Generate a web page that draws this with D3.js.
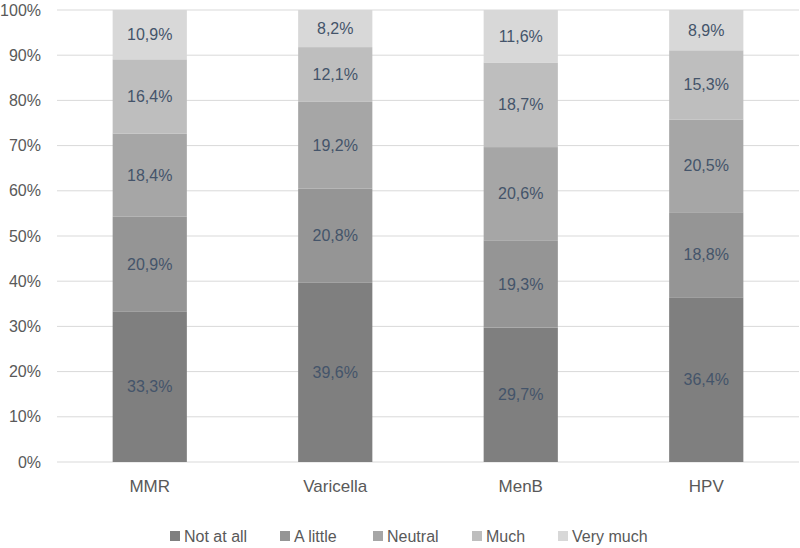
<!DOCTYPE html>
<html lang="en">
<head>
    <meta charset="UTF-8">
    <title>Stacked 100% bars</title>
    <style>
        body { margin: 0; background: #fff; }
        text { font-family: "Liberation Sans", "DejaVu Sans", sans-serif; }
    </style>
</head>
<body>
    <svg id="chart" width="800" height="548"></svg>
    <script src="https://d3js.org/d3.v7.min.js"></script>
    <script>
        // categories and series
        const vaccines = ["MMR", "Varicella", "MenB", "HPV"];
        const levels = ["Not at all", "A little", "Neutral", "Much", "Very much"];
        const notAtAll = [33.3, 39.6, 29.7, 36.4];
        const aLittle = [20.9, 20.8, 19.3, 18.8];
        const neutral = [18.4, 19.2, 20.6, 20.5];
        const much = [16.4, 12.1, 18.7, 15.3];
        const veryMuch = [10.9, 8.2, 11.6, 8.9];
        const yTicks = [0, 0.1, 0.2, 0.3, 0.4, 0.5, 0.6, 0.7, 0.8, 0.9, 1];
        const colors = ["#7f7f7f", "#959595", "#a6a6a6", "#bebebe", "#d8d8d8"];

        const seriesValues = [notAtAll, aLittle, neutral, much, veryMuch];
        const rows = vaccines.map((v, i) => {
            const r = { vaccine: v };
            levels.forEach((l, j) => r[l] = seriesValues[j][i]);
            return r;
        });

        const svg = d3.select("#chart");
        const margin = { top: 10, right: 1, bottom: 86, left: 57 };
        const width = 800 - margin.left - margin.right;
        const height = 548 - margin.top - margin.bottom;

        const g = svg.append("g").attr("transform", `translate(${margin.left},${margin.top})`);

        const x = d3.scaleBand().domain(vaccines).range([0, width]).paddingInner(0.6).paddingOuter(0.3);
        const y = d3.scaleLinear().domain([0, 1]).range([height, 0]);

        // gridlines
        g.append("g")
            .selectAll("line")
            .data(yTicks)
            .enter().append("line")
            .attr("x1", 0)
            .attr("x2", width)
            .attr("y1", d => y(d))
            .attr("y2", d => y(d))
            .attr("stroke", "#d9d9d9")
            .attr("stroke-width", 1);

        // y axis labels
        const yAxis = g.append("g")
            .call(d3.axisLeft(y).tickValues(yTicks).tickFormat(d3.format(".0%")).tickSize(0).tickPadding(16));
        yAxis.select(".domain").remove();
        yAxis.selectAll("text").attr("fill", "#595959").style("font-size", "16px");

        // x axis labels
        const xAxis = g.append("g")
            .attr("transform", `translate(0,${height})`)
            .call(d3.axisBottom(x).tickSize(0).tickPadding(18));
        xAxis.select(".domain").remove();
        xAxis.selectAll("text").attr("fill", "#595959").style("font-size", "17px");

        const stack = d3.stack().keys(levels).offset(d3.stackOffsetExpand);
        const stacked = stack(rows);

        const layer = g.selectAll(".layer")
            .data(stacked)
            .enter().append("g")
            .attr("class", "layer")
            .attr("fill", (d, i) => colors[i]);

        layer.selectAll("rect")
            .data(d => d)
            .enter().append("rect")
            .attr("x", d => x(d.data.vaccine))
            .attr("width", x.bandwidth())
            .attr("y", d => y(d[1]))
            .attr("height", d => y(d[0]) - y(d[1]));

        // value labels
        layer.selectAll(".val")
            .data(d => d.map(p => ({ p, key: d.key })))
            .enter().append("text")
            .attr("class", "val")
            .attr("x", d => x(d.p.data.vaccine) + x.bandwidth() / 2)
            .attr("y", d => y((d.p[0] + d.p[1]) / 2))
            .attr("dy", "0.35em")
            .attr("text-anchor", "middle")
            .attr("fill", "#44546a")
            .style("font-size", "16px")
            .text(d => d3.format(".1f")(d.p.data[d.key]).replace(".", ",") + "%");

        // legend
        const legendX = [170, 280, 373, 472, 558];
        const legend = svg.append("g").attr("transform", "translate(0,536)");
        const item = legend.selectAll(".item")
            .data(levels)
            .enter().append("g")
            .attr("class", "item")
            .attr("transform", (d, i) => `translate(${legendX[i]},0)`);
        item.append("rect")
            .attr("x", 0)
            .attr("y", -5)
            .attr("width", 10)
            .attr("height", 10)
            .attr("fill", (d, i) => colors[i]);
        item.append("text")
            .attr("x", 14)
            .attr("dy", "0.35em")
            .attr("fill", "#595959")
            .style("font-size", "16px")
            .text(d => d);
    </script>
</body>
</html>
